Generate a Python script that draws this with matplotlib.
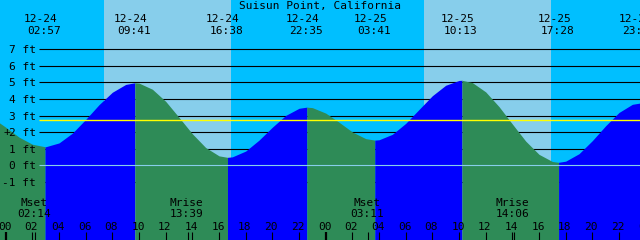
import matplotlib
matplotlib.use('Agg')
import matplotlib.pyplot as plt
import numpy as np

title = 'Suisun Point, California'

# tide height (ft) every hour, hours counted from 12-24 00:00
hours = np.arange(0, 48)
heights = [2.30, 1.70, 1.27, 1.12, 1.35, 1.94, 2.77, 3.66, 4.41, 4.88,
           4.96, 4.59, 3.86, 2.89, 1.90, 1.07, 0.57, 0.51, 0.86, 1.52,
           2.30, 3.01, 3.44, 3.48, 3.15, 2.60, 2.01, 1.61, 1.54, 1.87,
           2.53, 3.37, 4.20, 4.83, 5.12, 4.99, 4.43, 3.54, 2.49, 1.46,
           0.66, 0.23, 0.25, 0.70, 1.49, 2.39, 3.19, 3.68]
edge_hours = [-0.5]
edge_heights = [2.58]

# high / low tides
tide_dates = ['12-24', '12-24', '12-24', '12-24', '12-25', '12-25', '12-25', '12-25']
tide_times = ['02:57', '09:41', '16:38', '22:35', '03:41', '10:13', '17:28', '23:36']
tide_heights = [1.12, 4.98, 0.48, 3.51, 1.52, 5.13, 0.18, 3.76]

# moon events
moon_names = ['Mset', 'Mrise', 'Mset', 'Mrise']
moon_dates = ['12-24', '12-24', '12-25', '12-25']
moon_times = ['02:14', '13:39', '03:11', '14:06']

# daylight
sun_dates = ['12-24', '12-25']
sunrise = ['07:22', '07:23']
sunset = ['16:54', '16:55']

mean_level = 2.71
ft_levels = list(range(-1, 8))

night_col = '#00BFFF'
day_col = '#87CEEB'
rise_col = '#0000FF'
fall_col = '#2E8B57'

W, H = 640, 240
px_h = W / 48.0          # pixels per hour
x_left = -5.7 / px_h
px_ft = 16.57            # pixels per foot
y_top = 165.3 / px_ft
y_bot = -(H - 165.3) / px_ft


def to_hours(date, hm):
    day = 0 if date == '12-24' else 24
    hh, mm = hm.split(':')
    return day + int(hh) + int(mm) / 60.0


def ay(ypx):
    # pixel row from top -> axes fraction
    return 1 - ypx / H


tide_h = [to_hours(d, t) for d, t in zip(tide_dates, tide_times)]
moon_h = [to_hours(d, t) for d, t in zip(moon_dates, moon_times)]

t_all = np.concatenate([edge_hours, hours, tide_h])
v_all = np.concatenate([edge_heights, heights, tide_heights])
order = np.argsort(t_all, kind='stable')
t_all = t_all[order]
v_all = v_all[order]

fig = plt.figure(figsize=(6.4, 2.4), dpi=100)
ax = fig.add_axes([0, 0, 1, 1])
ax.set_facecolor(night_col)
for s in ax.spines.values():
    s.set_visible(False)
ax.set_xticks([])
ax.set_yticks([])
ax.set_xlim(x_left, x_left + 48)
ax.set_ylim(y_bot, y_top)

for d, sr, ss in zip(sun_dates, sunrise, sunset):
    ax.axvspan(to_hours(d, sr), to_hours(d, ss), color=day_col, lw=0, zorder=0)

xa = ax.get_xaxis_transform()
ya = ax.get_yaxis_transform()

# foot lines (behind the water)
black_levels = [lv for lv in ft_levels if lv != 0]
ax.hlines(black_levels, 39 / W, 1, colors='black', lw=0.8, transform=ya, zorder=1)

# water, blue while rising, green while falling
bounds = [t_all[0]] + tide_h + [t_all[-1]]
for a, b in zip(bounds[:-1], bounds[1:]):
    if b <= a:
        continue
    m = (t_all >= a) & (t_all <= b)
    tt = t_all[m]
    vv = v_all[m]
    col = fall_col if vv[-1] < vv[0] else rise_col
    ax.fill_between(tt, vv, y_bot, color=col, lw=0, zorder=2)

ax.hlines([0], 39 / W, 1, colors=day_col, lw=0.8, transform=ya, zorder=3)
ax.hlines([mean_level], 39 / W, 1, colors='#FFFF00', lw=1.0, transform=ya, zorder=3)

font = dict(family='DejaVu Sans Mono', fontsize=8, color='black')

ax.text(0.5, ay(9.3), title, ha='center', va='baseline', transform=ax.transAxes, **font)

for lv in ft_levels:
    ax.text(36 / W, lv - 4 / px_ft, '%d ft' % lv, ha='right', va='baseline',
            transform=ya, zorder=4, **font)
ax.text(6.7 / W, ay(135), '+', ha='center', va='baseline', transform=ax.transAxes,
        zorder=4, **font)

for d, t, h in zip(tide_dates, tide_times, tide_h):
    ax.text(h - 4.5 / px_h, ay(21.7), d, ha='center', va='baseline', transform=xa, **font)
    ax.text(h - 1 / px_h, ay(34.3), t, ha='center', va='baseline', transform=xa, **font)

for n, t, h in zip(moon_names, moon_times, moon_h):
    ax.text(h - 1 / px_h, ay(206), n, ha='center', va='baseline', transform=xa, zorder=4, **font)
    ax.text(h - 1 / px_h, ay(217.3), t, ha='center', va='baseline', transform=xa, zorder=4, **font)

# hour ticks
for hr in range(0, 49, 2):
    ax.text(hr - 1 / px_h, ay(230), '%02d' % (hr % 24), ha='center', va='baseline',
            transform=xa, zorder=4, **font)
    lw = 1.6 if hr % 24 == 0 else 0.8
    ax.vlines(hr, 0, 8 / H, colors='black', lw=lw, transform=xa, zorder=4)
ax.vlines(moon_h, 0, 8 / H, colors='black', lw=0.8, transform=xa, zorder=4)

fig.savefig('out.png', dpi=100)
